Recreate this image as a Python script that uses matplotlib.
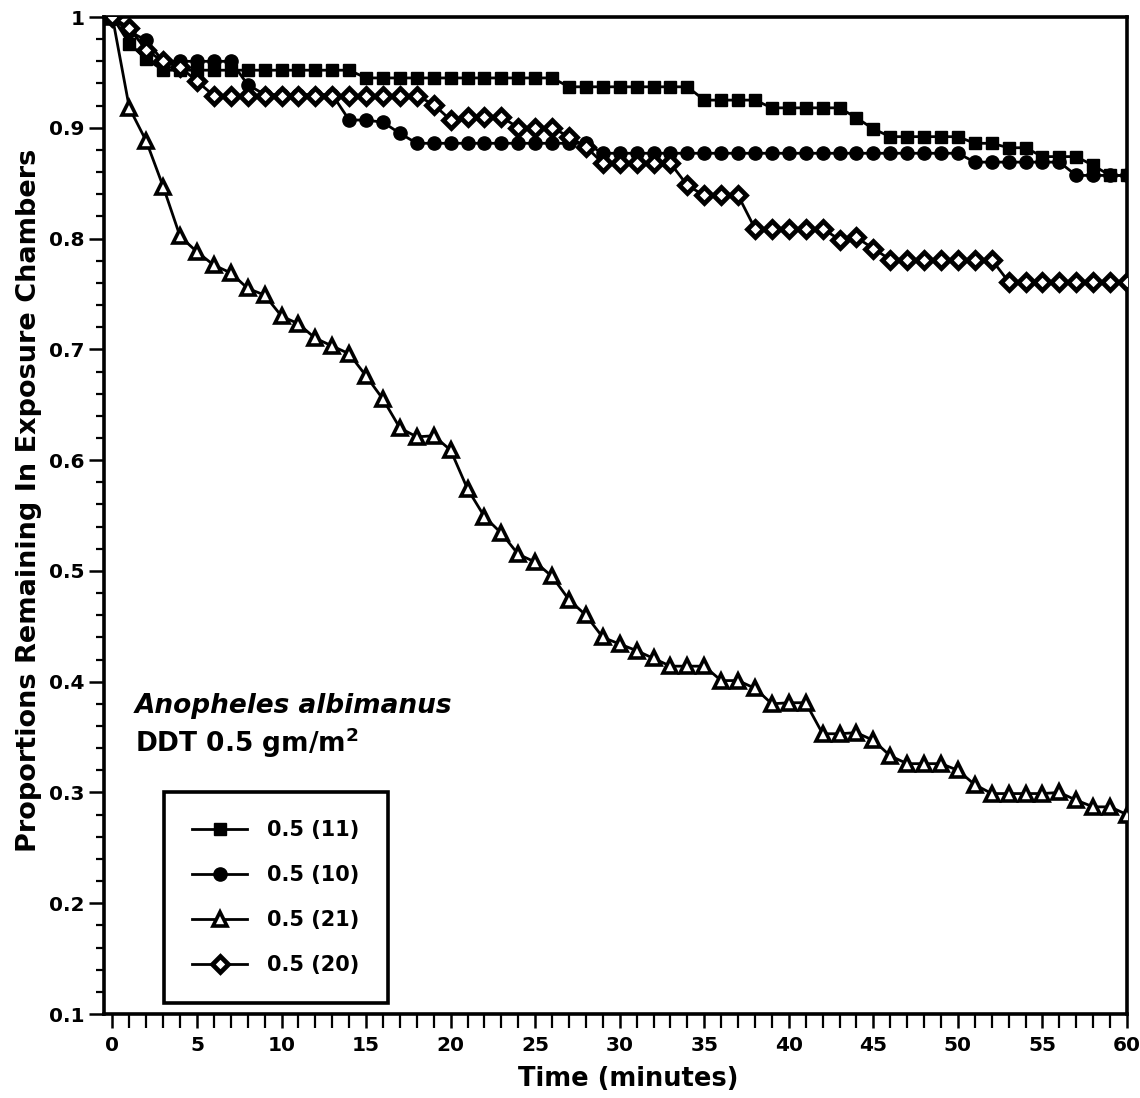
import matplotlib
matplotlib.use("Agg")
import matplotlib.pyplot as plt
import numpy as np

minutes = list(range(0, 61))

s11 = ([1.0, 0.976, 0.962] + [0.952]*12 + [0.945]*12 + [0.937]*8 + [0.925]*4 +
       [0.918]*5 + [0.909, 0.899] + [0.892]*5 + [0.886]*2 + [0.882]*2 +
       [0.874]*3 + [0.866] + [0.857]*2)

s10 = ([1.0, 0.987, 0.979] + [0.960]*5 + [0.939] + [0.930]*5 + [0.907]*2 +
       [0.905, 0.895] + [0.886]*11 + [0.877]*22 + [0.869]*6 + [0.857]*4)

s21 = [1.0, 0.918, 0.888, 0.847, 0.802, 0.788, 0.776, 0.769, 0.755, 0.749, 0.730,
       0.723, 0.710, 0.703, 0.696, 0.676, 0.655, 0.629, 0.621, 0.622, 0.609,
       0.574, 0.549, 0.534, 0.515, 0.508, 0.495, 0.474, 0.460, 0.440, 0.434,
       0.428, 0.421, 0.414, 0.414, 0.414, 0.401, 0.401, 0.394, 0.380, 0.381,
       0.381, 0.353, 0.353, 0.354, 0.347, 0.333, 0.326, 0.326, 0.326, 0.320,
       0.307, 0.299, 0.299, 0.299, 0.299, 0.300, 0.293, 0.287, 0.287, 0.280]

s20 = ([1.0, 0.990, 0.970, 0.960, 0.955, 0.942] + [0.929]*13 + [0.921, 0.907] +
       [0.910]*3 + [0.900]*3 + [0.892, 0.883] + [0.868]*5 + [0.848] +
       [0.839]*3 + [0.809]*5 + [0.799, 0.801, 0.791] + [0.781]*7 + [0.761]*8)

labels = ["0.5 (11)", "0.5 (10)", "0.5 (21)", "0.5 (20)"]
yticks = [0.1, 0.2, 0.3, 0.4, 0.5, 0.6, 0.7, 0.8, 0.9, 1]
ytick_labels = ["0.1", "0.2", "0.3", "0.4", "0.5", "0.6", "0.7", "0.8", "0.9", "1"]
xticks = [0, 5, 10, 15, 20, 25, 30, 35, 40, 45, 50, 55, 60]

plt.rcParams['font.family'] = ['DejaVu Sans']
plt.rcParams['font.weight'] = 'bold'

fig = plt.figure(figsize=(11.4, 10.98), dpi=100)
ax = fig.add_axes([0.0912, 0.0765, 0.8974, 0.908])

lw = 2.0
ax.plot(minutes, s11, color='black', lw=lw, marker='s', ms=8.5, mfc='black', mec='black',
        label=labels[0], zorder=3)
ax.plot(minutes, s10, color='black', lw=lw, marker='o', ms=9.5, mfc='black', mec='black',
        label=labels[1], zorder=3)
ax.plot(minutes, s21, color='black', lw=lw, marker='^', ms=10, mfc='white', mec='black',
        mew=2.6, label=labels[2], zorder=3)
ax.plot(minutes, s20, color='black', lw=lw, marker='D', ms=8.5, mfc='white', mec='black',
        mew=3.4, label=labels[3], zorder=3)

ax.set_xlim(-0.5, 60)
ax.set_ylim(0.1, 1.0)
ax.set_yticks(yticks)
ax.set_yticklabels(ytick_labels)
ax.set_yticks(np.arange(0.1, 1.0001, 0.02), minor=True)
ax.set_xticks(xticks)
ax.set_xticks(minutes, minor=True)

for s in ax.spines.values():
    s.set_linewidth(2.6)

ax.tick_params(axis='y', which='major', direction='out', length=11, width=1.8,
               labelsize=14.5, pad=3)
ax.tick_params(axis='x', which='major', direction='out', length=10, width=1.8,
               labelsize=14.5, pad=6)
ax.tick_params(axis='y', which='minor', direction='out', length=6, width=1.6)
ax.tick_params(axis='x', which='minor', direction='out', length=10, width=1.6)
for t in ax.get_xticklabels() + ax.get_yticklabels():
    t.set_fontweight('bold')

ax.set_xlabel("Time (minutes)", fontsize=18.5, fontweight='bold', labelpad=6)
ax.xaxis.set_label_coords(0.512, -0.052)
ax.set_ylabel("Proportions Remaining In Exposure Chambers", fontsize=19.5,
              fontweight='bold', labelpad=6)
ax.yaxis.set_label_coords(-0.061, 0.515)

ax.text(0.030, 0.309, "Anopheles albimanus", transform=ax.transAxes, fontsize=19,
        fontweight='bold', style='italic', va='center', ha='left')
ax.text(0.030, 0.272, r"DDT 0.5 gm/m$^\mathbf{2}$", transform=ax.transAxes, fontsize=19,
        fontweight='bold', va='center', ha='left')

leg = ax.legend(loc='lower left', bbox_to_anchor=(0.059, 0.011), frameon=True,
                fancybox=False, edgecolor='black', framealpha=1.0, fontsize=15,
                handlelength=2.6, labelspacing=1.2, borderpad=1.35, handletextpad=1.0,
                borderaxespad=0)
leg.get_frame().set_linewidth(2.6)
for t in leg.get_texts():
    t.set_fontweight('bold')

fig.savefig("out.png", dpi=100, facecolor='white')
